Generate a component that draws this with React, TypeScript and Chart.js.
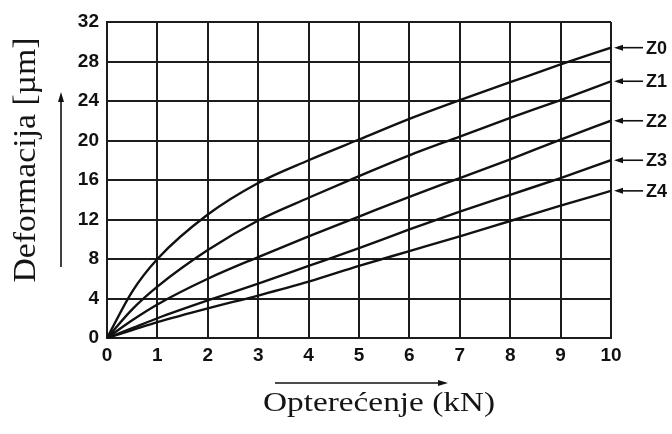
import React, { useEffect, useRef } from "react";
import { Chart, registerables } from "chart.js";

Chart.register(...registerables);

// ---- data ----
const loads = [0, 0.5, 1, 2, 3, 4, 5, 6, 7, 8, 9, 10];
const z0 = [0, 4.7, 8.0, 12.5, 15.7, 18.0, 20.1, 22.2, 24.1, 25.9, 27.7, 29.4];
const z1 = [0, 2.9, 5.2, 8.9, 11.9, 14.2, 16.4, 18.5, 20.4, 22.3, 24.1, 26.0];
const z2 = [0, 1.8, 3.4, 6.0, 8.2, 10.3, 12.3, 14.3, 16.2, 18.1, 20.1, 22.0];
const z3 = [0, 1.0, 2.0, 3.8, 5.5, 7.3, 9.1, 11.0, 12.8, 14.5, 16.2, 18.0];
const z4 = [0, 0.8, 1.6, 3.0, 4.3, 5.7, 7.3, 8.8, 10.3, 11.85, 13.4, 14.9];
const seriesNames = ["Z0", "Z1", "Z2", "Z3", "Z4"];
const seriesValues = [z0, z1, z2, z3, z4];
const xTickValues = [0, 1, 2, 3, 4, 5, 6, 7, 8, 9, 10];
const yTickValues = [0, 4, 8, 12, 16, 20, 24, 28, 32];
const xTitle = "Opterećenje (kN)";
const yTitle = "Deformacija [µm]";

const INK = "#111111";
const GRID = "#1c1c1c";

function drawArrowHead(ctx: CanvasRenderingContext2D, tx: number, ty: number, dx: number, dy: number, len: number, half: number) {
  const bx = tx - dx * len;
  const by = ty - dy * len;
  const px = -dy;
  const py = dx;
  ctx.beginPath();
  ctx.moveTo(tx, ty);
  ctx.lineTo(bx + px * half, by + py * half);
  ctx.lineTo(bx - px * half, by - py * half);
  ctx.closePath();
  ctx.fill();
}

const decorPlugin = {
  id: "decor",
  afterDraw(chart: any) {
    const ctx: CanvasRenderingContext2D = chart.ctx;
    ctx.save();
    ctx.strokeStyle = INK;
    ctx.fillStyle = INK;

    // series labels with arrows
    ctx.lineWidth = 1.6;
    ctx.font = "bold 18px 'Liberation Sans', Arial, sans-serif";
    ctx.textBaseline = "middle";
    ctx.textAlign = "left";
    seriesNames.forEach((name, i) => {
      const meta = chart.getDatasetMeta(i);
      const pt = meta.data[meta.data.length - 1];
      const x = pt.x;
      const y = pt.y;
      ctx.beginPath();
      ctx.moveTo(x + 8, y);
      ctx.lineTo(x + 32, y);
      ctx.stroke();
      drawArrowHead(ctx, x + 3, y, -1, 0, 9, 3);
      ctx.fillText(name, x + 35, y + 1);
    });

    // y-axis direction arrow
    ctx.lineWidth = 1.6;
    ctx.beginPath();
    ctx.moveTo(61, 267);
    ctx.lineTo(61, 100);
    ctx.stroke();
    drawArrowHead(ctx, 61, 92, 0, -1, 10, 3);

    // x-axis direction arrow
    ctx.beginPath();
    ctx.moveTo(275, 383);
    ctx.lineTo(440, 383);
    ctx.stroke();
    drawArrowHead(ctx, 448, 383, 1, 0, 10, 3);

    // axis titles (serif)
    ctx.fillStyle = "#151515";
    ctx.textAlign = "center";
    ctx.textBaseline = "alphabetic";
    ctx.font = "28px 'Liberation Serif', 'Times New Roman', serif";
    const wX = ctx.measureText(xTitle).width;
    const sX = 232 / wX;
    ctx.save();
    ctx.translate(379, 411);
    ctx.scale(sX, 1);
    ctx.fillText(xTitle, 0, 0);
    ctx.restore();

    ctx.font = "31px 'Liberation Serif', 'Times New Roman', serif";
    const wY = ctx.measureText(yTitle).width;
    const sY = 245 / wY;
    ctx.save();
    ctx.translate(35, 160);
    ctx.rotate(-Math.PI / 2);
    ctx.scale(sY, 1);
    ctx.fillText(yTitle, 0, 0);
    ctx.restore();

    ctx.restore();
  },
};

export default function App() {
  const ref = useRef<HTMLCanvasElement | null>(null);

  useEffect(() => {
    if (!ref.current) return;
    const tickFont = { family: "'Liberation Sans', Arial, sans-serif", size: 19, weight: "bold" as const };
    const chart = new Chart(ref.current, {
      type: "line",
      data: {
        datasets: seriesValues.map((vals, i) => ({
          label: seriesNames[i],
          data: loads.map((x, j) => ({ x, y: vals[j] })),
          borderColor: INK,
          borderWidth: 2.4,
          pointRadius: 0,
          fill: false,
          cubicInterpolationMode: "monotone" as const,
        })),
      },
      options: {
        responsive: false,
        animation: false,
        events: [],
        layout: { padding: { top: 22, right: 61, left: 0, bottom: 0 } },
        plugins: {
          legend: { display: false },
          tooltip: { enabled: false },
          title: { display: false },
        },
        scales: {
          x: {
            type: "linear",
            min: 0,
            max: 10,
            afterBuildTicks: (scale: any) => {
              scale.ticks = xTickValues.map((v) => ({ value: v }));
            },
            afterFit: (scale: any) => {
              scale.height = 96;
            },
            ticks: { color: INK, font: tickFont, padding: 6, maxRotation: 0 },
            grid: { color: GRID, lineWidth: 2, drawTicks: false },
            border: { display: true, color: GRID, width: 2 },
          },
          y: {
            type: "linear",
            min: 0,
            max: 32,
            afterBuildTicks: (scale: any) => {
              scale.ticks = yTickValues.map((v) => ({ value: v }));
            },
            afterFit: (scale: any) => {
              scale.width = 107;
            },
            ticks: { color: INK, font: tickFont, padding: 8 },
            grid: { color: GRID, lineWidth: 2, drawTicks: false },
            border: { display: true, color: GRID, width: 2 },
          },
        },
      },
      plugins: [decorPlugin],
    });
    return () => chart.destroy();
  }, []);

  return (
    <div style={{ position: "fixed", left: 0, top: 0, width: 672, height: 434, background: "#ffffff" }}>
      <canvas ref={ref} width={672} height={434} style={{ width: 672, height: 434, display: "block" }} />
    </div>
  );
}
